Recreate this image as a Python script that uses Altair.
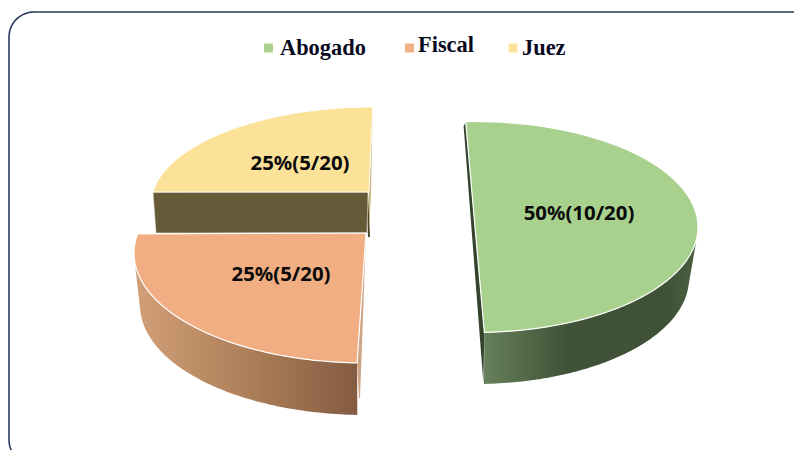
import numpy as np
import altair as alt

# Data
categories = ["Abogado", "Fiscal", "Juez"]
shares = [50, 25, 25]
counts = [10, 5, 5]
total = 20
labels = [f"{s}%({c}/{total})" for s, c in zip(shares, counts)]

top_colors = ["#a9d18e", "#f1ae82", "#fbe298"]
side_colors = ["#3f5136", "#9a6f50", "#665a38"]

# Per-slice view geometry of the 3D exploded pie (image pixels)
geom = {
    "Abogado": dict(apex=(475, 227), c=(475, 227), r=(223, 105.5), rot=-2.4, stretch=1.0),
    "Fiscal": dict(apex=(366, 233), c=(366, 253), r=(232, 110), rot=2.2, stretch=1.087),
    "Juez": dict(apex=(369, 192), c=(373, 205), r=(222, 98), rot=7.6, stretch=0.915),
}


def spans():
    out, cum = {}, 0.0
    for name, s in zip(categories, shares):
        g = geom[name]
        a0 = cum / 100 * 360 + g["rot"]
        out[name] = (a0, a0 + s / 100 * 360 * g["stretch"])
        cum += s
    return out


SP = spans()


def arc(c, r, a0, a1, n=80):
    t = np.radians(np.linspace(a0, a1, n))
    return [[float(c[0] + r[0] * np.sin(x)), float(c[1] - r[1] * np.cos(x))] for x in t]


def feature(points):
    ring = list(points) + [points[0]]
    return {"type": "Feature", "properties": {},
            "geometry": {"type": "Polygon", "coordinates": [ring]}}


PROJ = dict(type="identity", scale=1, translate=[-8, -8])


def shape(points, **mark):
    return (alt.Chart(alt.Data(values=[feature(points)]))
            .mark_geoshape(**mark).project(**PROJ))


def grad(stops):
    return alt.Gradient(gradient="linear", x1=0, x2=1, y1=0, y2=0,
                        stops=[alt.GradientStop(offset=o, color=c) for o, c in stops])


layers = []

# Frame with rounded corners
R = 25
L, T, RI, B = 9, 12, 830, 465
frame = (arc((L + R, T + R), (R, R), 270, 360, 16)
         + arc((RI - R, T + R), (R, R), 0, 90, 16)
         + arc((RI - R, B - R), (R, R), 90, 180, 16)
         + arc((L + R, B - R), (R, R), 180, 270, 16))
layers.append(shape(frame, fill="white", stroke="#2b3a5e", strokeWidth=1.6))

# Juez
g = geom["Juez"]
a0, a1 = SP["Juez"]
left = arc(g["c"], g["r"], a0, a0, 1)[0]
right = arc(g["c"], g["r"], a1, a1, 1)[0]
layers.append(shape([[368, 192], [370, 237], [368, 237], [366, 192]], fill="#4a4128"))
layers.append(shape([left, [left[0] + 3, 233], [367, 233], [368, 192]], fill=side_colors[2],
                    stroke="#f2efe0", strokeWidth=0.6))
layers.append(shape([right, [371, 192], [369, 232], [369, 192]], fill="#c9b678"))
layers.append(shape([g["apex"]] + arc(g["c"], g["r"], a0, a1), fill=top_colors[2],
                    stroke="white", strokeWidth=1))

# Fiscal
g = geom["Fiscal"]
a0, a1 = SP["Fiscal"]
c2 = (g["c"][0], g["c"][1] + 52)
r2 = (226, 110)
layers.append(shape(arc(g["c"], g["r"], a0, 268) + arc(c2, r2, 268, a0),
                    fill=grad([(0, "#d2a078"), (0.5, "#ae8059"), (1, "#845c43")])))
end = arc(g["c"], g["r"], a0, a0, 1)[0]
layers.append(shape([[366, 234], [360, 398], [359, 398], end], fill="#cfa483"))
layers.append(shape([g["apex"]] + arc(g["c"], g["r"], a0, a1), fill=top_colors[1],
                    stroke="white", strokeWidth=1.2))

# Abogado
g = geom["Abogado"]
a0, a1 = SP["Abogado"]
c2 = (g["c"][0], g["c"][1] + 51.5)
r2 = (214, 105.5)
layers.append(shape(arc(g["c"], g["r"], 96, a1) + arc(c2, r2, a1, 96),
                    fill=grad([(0, "#66805a"), (0.4, "#3f5136"), (0.85, "#3f5136"), (1, "#4a6040")])))
p_top = arc(g["c"], g["r"], a0, a0, 1)[0]
p_bot = arc(g["c"], g["r"], a1, a1, 1)[0]
layers.append(shape([p_top, p_bot, [p_bot[0] - 1, p_bot[1] + 50], [p_top[0] - 2, p_top[1] + 5]],
                    fill="#33432c"))
layers.append(shape([g["apex"]] + arc(g["c"], g["r"], a0, a1), fill=top_colors[0],
                    stroke="white", strokeWidth=1.2))

# Slice labels
label_lon = [579, 281, 300]
label_lat = [220, 281, 170]
label_data = [{"t": t, "lon": x, "lat": y} for t, x, y in zip(labels, label_lon, label_lat)]
layers.append(
    alt.Chart(alt.Data(values=label_data))
    .mark_text(font="Noto Sans", fontSize=20.4, fontWeight="bold", color="#0a0a0a",
               align="center", baseline="alphabetic")
    .encode(longitude="lon:Q", latitude="lat:Q", text="t:N")
    .project(**PROJ)
)

# Legend
legend_sq_x = [268.5, 409.5, 513]
legend_sq_y = [48, 48, 48]
legend_tx_x = [280, 418, 522]
legend_tx_y = [55, 52, 55]
sq = [{"name": n, "lon": x, "lat": y} for n, x, y in zip(categories, legend_sq_x, legend_sq_y)]
tx = [{"name": n, "lon": x, "lat": y} for n, x, y in zip(categories, legend_tx_x, legend_tx_y)]
color = alt.Color("name:N", scale=alt.Scale(domain=categories, range=top_colors), legend=None)
layers.append(
    alt.Chart(alt.Data(values=sq))
    .mark_square(size=80, opacity=1, filled=True)
    .encode(longitude="lon:Q", latitude="lat:Q", color=color)
    .project(**PROJ)
)
layers.append(
    alt.Chart(alt.Data(values=tx))
    .mark_text(font="Liberation Serif", fontSize=22.4, fontWeight="bold", color="#0a0a1e",
               align="left", baseline="alphabetic")
    .encode(longitude="lon:Q", latitude="lat:Q", text="name:N")
    .project(**PROJ)
)

chart = (
    alt.layer(*layers)
    .properties(width=786, height=442, padding=0, background="white",
                autosize=alt.AutoSizeParams(type="none"))
    .configure_view(stroke=None)
)

chart.save("out.html", embed_options={"renderer": "svg", "actions": False})
